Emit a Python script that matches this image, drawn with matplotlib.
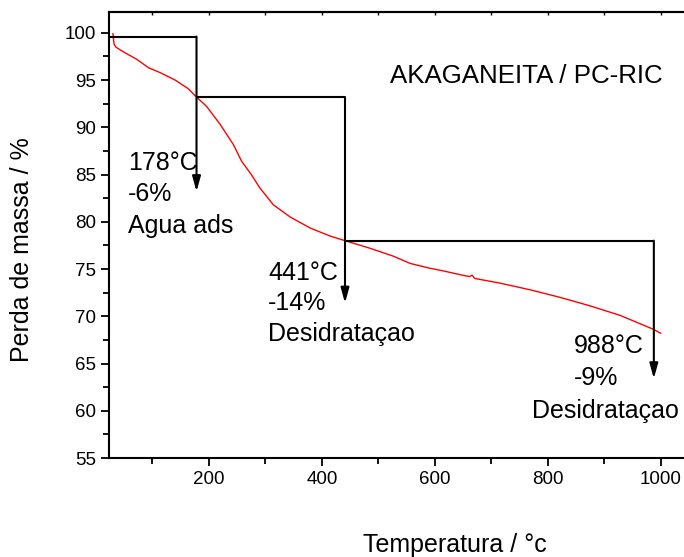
import matplotlib
matplotlib.use("Agg")
import matplotlib.pyplot as plt
from matplotlib.ticker import MultipleLocator

plt.rcParams['font.family'] = ['Liberation Sans', 'DejaVu Sans']

# TGA curve: temperature (°C) vs remaining mass (%)
temperature = [30, 31, 32, 35, 40, 48, 72, 93, 113, 140, 163, 178, 196, 220, 243,
               258, 275, 290, 314, 344, 379, 414, 441, 485, 527, 556, 590, 615,
               645, 657, 662, 666, 671, 716, 769, 822, 875, 928, 988, 1000]
mass = [99.9, 99.3, 98.8, 98.5, 98.3, 98.0, 97.2, 96.3, 95.8, 95.0, 94.1, 93.2,
        92.2, 90.3, 88.2, 86.4, 85.0, 83.6, 81.8, 80.5, 79.35, 78.5, 78.0, 77.2,
        76.35, 75.6, 75.1, 74.8, 74.4, 74.25, 74.2, 74.35, 74.0, 73.5, 72.8,
        72.0, 71.1, 70.1, 68.6, 68.2]

# Mass-loss steps: temperatures, plateau levels and arrow tips
step_temps = [178, 441, 988]
step_start = [23, 178, 441]
step_levels = [99.6, 93.2, 78.0]
arrow_tips = [83.2, 71.4, 63.4]
step_labels = [["178°C", "-6%", "Agua ads"],
               ["441°C", "-14%", "Desidrataçao"],
               ["988°C", "-9%", "Desidrataçao"]]

x_ticks = [200, 400, 600, 800, 1000]
y_ticks = [55, 60, 65, 70, 75, 80, 85, 90, 95, 100]

W, H = 684, 557
fig = plt.figure(figsize=(W / 100, H / 100), dpi=100)
x0, x1 = 23, 1070
y0, y1 = 55, 102.2
left_px, right_px = 109, 109 + (x1 - x0) * 0.5646
top_px, bot_px = 12, 458
ax = fig.add_axes([left_px / W, 1 - bot_px / H, (right_px - left_px) / W,
                   (bot_px - top_px) / H])
ax.set_xlim(x0, x1)
ax.set_ylim(y0, y1)

ax.plot(temperature, mass, color='red', lw=1.0)

lw = 1.5
for i in range(3):
    ax.plot([step_start[i], step_temps[i]], [step_levels[i], step_levels[i]],
            color='black', lw=lw, solid_capstyle='butt')
    ax.annotate('', xy=(step_temps[i], arrow_tips[i]),
                xytext=(step_temps[i], step_levels[i]),
                arrowprops=dict(arrowstyle='-|>,head_length=0.9,head_width=0.25',
                                color='black', lw=lw, shrinkA=0, shrinkB=0))

fs = 18
ax.text(57, 86.2, step_labels[0][0], fontsize=fs, va='center')
ax.text(57, 82.9, step_labels[0][1], fontsize=fs, va='center')
ax.text(57, 79.6, step_labels[0][2], fontsize=fs, va='center')
ax.text(305, 74.6, step_labels[1][0], fontsize=fs, va='center')
ax.text(305, 71.4, step_labels[1][1], fontsize=fs, va='center')
ax.text(305, 68.1, step_labels[1][2], fontsize=fs, va='center')
ax.text(846, 66.9, step_labels[2][0], fontsize=fs, va='center')
ax.text(846, 63.5, step_labels[2][1], fontsize=fs, va='center')
ax.text(772, 60.0, step_labels[2][2], fontsize=fs, va='center')

ax.text(521, 95.45, "AKAGANEITA / PC-RIC", fontsize=18.6, va='center')

for s in ['left', 'bottom', 'top']:
    ax.spines[s].set_linewidth(1.5)
ax.spines['right'].set_visible(False)

ax.set_xticks(x_ticks)
ax.set_yticks(y_ticks)
ax.xaxis.set_minor_locator(MultipleLocator(100))
ax.yaxis.set_minor_locator(MultipleLocator(2.5))
ax.tick_params(which='major', direction='out', length=6, width=1.3,
               labelsize=13.5, top=False, right=False, pad=3)
ax.tick_params(which='minor', direction='out', length=4, width=1.3,
               top=False, right=False)

top = ax.secondary_xaxis('top')
top.set_xticks(list(range(100, 1100, 100)))
top.tick_params(direction='in', length=2, width=1.0, labeltop=False)
top.spines['top'].set_linewidth(1.5)

ax.set_xlabel("Temperatura / °c", fontsize=18)
ax.set_ylabel("Perda de massa / %", fontsize=18)
ax.xaxis.set_label_coords((455 - left_px) / (right_px - left_px), -(545 - bot_px) / (bot_px - top_px))
ax.yaxis.set_label_coords(-(109 - 22) / (right_px - left_px), (bot_px - 250) / (bot_px - top_px))
ax.xaxis.label.set_va('center')
ax.yaxis.label.set_va('center')

fig.savefig("out.png", dpi=100)
